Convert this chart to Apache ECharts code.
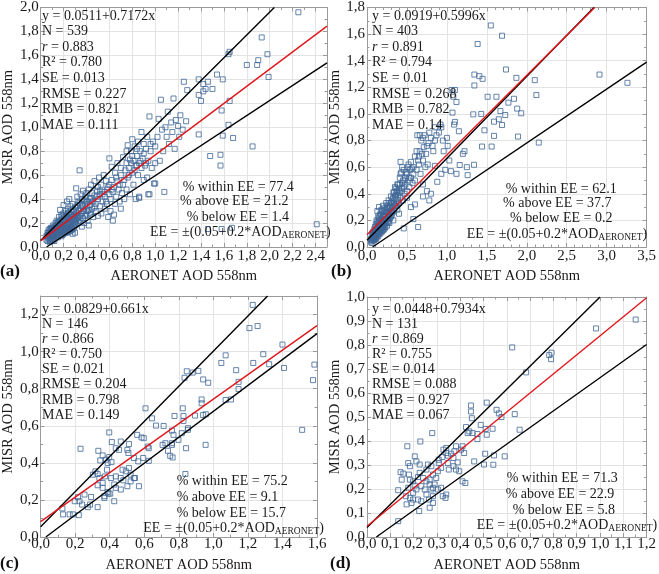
<!DOCTYPE html>
<html><head><meta charset="utf-8">
<script src="https://cdn.jsdelivr.net/npm/echarts@6/dist/echarts.min.js"></script>
<style>html,body{margin:0;padding:0;background:#fff}#c{width:659px;height:574px}</style>
</head><body><div id="c"></div>
<script>
// ---------------- DATA ----------------
const pointsA = [
[0.05,0.06],[0.06,0.08],[0.06,0.05],[0.07,0.1],[0.07,0.07],[0.08,0.12],[0.08,0.06],[0.08,0.09],[0.09,0.14],[0.09,0.08],[0.09,0.11],[0.10,0.07],[0.10,0.12],[0.10,0.16],[0.11,0.09],[0.11,0.13],[0.11,0.18],[0.12,0.1],[0.12,0.15],[0.12,0.07],[0.13,0.12],[0.13,0.17],[0.13,0.2],[0.14,0.09],[0.14,0.14],[0.14,0.22],[0.15,0.11],[0.15,0.16],[0.15,0.19],[0.06,0.12],[0.07,0.14],[0.08,0.15],[0.09,0.05],[0.1,0.1],[0.11,0.06],[0.12,0.12],[0.13,0.08],[0.14,0.18],[0.15,0.13],
[0.05,0.09],[0.06,0.1],[0.07,0.12],[0.08,0.04],[0.09,0.16],[0.1,0.05],[0.1,0.14],[0.11,0.11],[0.11,0.15],[0.12,0.17],[0.12,0.05],[0.13,0.1],[0.13,0.14],[0.14,0.11],[0.14,0.16],[0.15,0.08],[0.15,0.21],[0.16,0.17],[0.17,0.1],[0.17,0.15],[0.17,0.19],[0.18,0.13],[0.18,0.22],[0.19,0.1],[0.19,0.16],[0.19,0.26],[0.2,0.14],[0.2,0.19],[0.21,0.12],[0.21,0.22],[0.22,0.15],[0.22,0.26],[0.23,0.12],[0.23,0.18],[0.24,0.16],[0.24,0.28],[0.25,0.13],[0.25,0.24],[0.26,0.17],[0.26,0.27],[0.27,0.14],[0.27,0.31],[0.28,0.22],[0.29,0.16],[0.29,0.27],[0.3,0.18],[0.31,0.23],[0.31,0.33],[0.32,0.27],[0.33,0.25],[0.33,0.38],[0.34,0.22],[0.35,0.28],[0.36,0.35],[0.37,0.3],[0.38,0.39],[0.39,0.26],[0.4,0.38],[0.41,0.3],[0.43,0.4],[0.45,0.38],[0.47,0.33],[0.49,0.42],[0.52,0.47],[0.54,0.44],[0.57,0.38],[0.59,0.5],[0.62,0.48],[0.66,0.58],[0.69,0.52],[0.73,0.56],[0.77,0.6],[0.79,0.7],[0.82,0.64],[0.84,0.82],[0.87,0.72],[0.9,0.78],[0.92,0.7],[0.96,0.86],[0.8,0.76],[0.84,0.68],[0.75,0.8],
[0.16,0.1],[0.16,0.14],[0.16,0.2],[0.16,0.25],[0.17,0.12],[0.17,0.17],[0.17,0.22],[0.17,0.31],[0.18,0.09],[0.18,0.15],[0.18,0.19],[0.18,0.27],[0.19,0.13],[0.19,0.18],[0.19,0.23],[0.2,0.11],[0.2,0.16],[0.2,0.21],[0.2,0.28],[0.2,0.35],[0.21,0.14],[0.21,0.19],[0.21,0.25],[0.22,0.12],[0.22,0.17],[0.22,0.23],[0.22,0.3],[0.23,0.15],[0.23,0.2],[0.23,0.27],[0.23,0.38],[0.24,0.13],[0.24,0.18],[0.24,0.24],[0.24,0.32],[0.25,0.16],[0.25,0.21],[0.25,0.29],[0.25,0.4],[0.26,0.14],[0.26,0.19],[0.26,0.23],[0.26,0.34],[0.27,0.17],[0.27,0.22],[0.27,0.27],[0.28,0.15],[0.28,0.2],[0.28,0.25],[0.28,0.36],[0.29,0.18],[0.29,0.23],[0.29,0.3],[0.3,0.21],[0.3,0.26],[0.3,0.33],[0.3,0.12],[0.31,0.49],[0.28,0.11],
[0.31,0.19],[0.31,0.28],[0.32,0.24],[0.32,0.35],[0.32,0.42],[0.33,0.2],[0.33,0.3],[0.34,0.26],[0.34,0.37],[0.34,0.64],[0.35,0.22],[0.35,0.32],[0.35,0.44],[0.36,0.28],[0.36,0.4],[0.37,0.24],[0.37,0.34],[0.37,0.47],[0.38,0.3],[0.38,0.2],[0.39,0.36],[0.39,0.42],[0.4,0.27],[0.4,0.33],[0.4,0.45],[0.41,0.38],[0.41,0.22],[0.42,0.31],[0.42,0.48],[0.43,0.35],[0.43,0.27],[0.44,0.41],[0.44,0.52],[0.45,0.32],[0.45,0.45],[0.46,0.25],[0.46,0.38],[0.47,0.43],[0.47,0.55],[0.48,0.3],[0.48,0.36],[0.49,0.47],[0.5,0.4],[0.5,0.26],[0.5,0.5],[0.36,0.17],[0.42,0.18],[0.44,0.28],
[0.51,0.58],[0.52,0.34],[0.52,0.44],[0.53,0.28],[0.53,0.52],[0.54,0.38],[0.55,0.46],[0.55,0.6],[0.56,0.32],[0.56,0.42],[0.57,0.55],[0.58,0.36],[0.58,0.48],[0.59,0.25],[0.6,0.74],[0.6,0.44],[0.6,0.52],[0.61,0.3],[0.61,0.4],[0.62,0.56],[0.62,0.67],[0.63,0.46],[0.63,0.22],[0.64,0.5],[0.65,0.36],[0.65,0.62],[0.66,0.42],[0.67,0.55],[0.67,0.7],[0.68,0.48],[0.69,0.38],[0.7,0.6],[0.7,0.66],[0.71,0.45],[0.72,0.52],[0.72,0.75],[0.73,0.4],[0.74,0.64],[0.75,0.7],[0.75,0.48],[0.64,0.27],[0.7,0.32],
[0.76,0.58],[0.76,0.85],[0.77,0.66],[0.78,0.44],[0.78,0.73],[0.79,0.8],[0.8,0.62],[0.8,0.9],[0.81,0.52],[0.81,0.72],[0.82,0.84],[0.83,0.68],[0.83,0.4],[0.84,0.76],[0.85,0.6],[0.85,0.88],[0.86,0.7],[0.86,0.42],[0.87,0.8],[0.88,0.66],[0.88,0.96],[0.89,0.74],[0.9,0.86],[0.9,0.56],[0.91,0.68],[0.92,0.82],[0.93,0.58],[0.93,0.92],[0.94,0.72],[0.95,1.09],[0.95,0.44],[0.96,0.8],[0.97,0.66],[0.98,0.88],[0.99,0.53],[1.0,0.7],[1.0,0.84],
[1.02,0.92],[1.03,1.07],[1.04,0.72],[1.05,1.23],[1.06,0.98],[1.07,0.8],[1.08,0.46],[1.09,1.0],[1.1,0.92],[1.11,1.13],[1.12,0.86],[1.14,1.04],[1.15,0.96],[1.16,1.24],[1.17,0.82],[1.18,1.06],[1.2,1.01],[1.21,0.92],[1.22,1.1],[1.24,0.98],[1.25,1.38],[1.27,1.05],[1.28,1.31],
[2.25,1.96],[1.93,1.75],[1.98,1.61],[1.65,1.63],[1.64,1.61],[1.8,1.52],[1.89,1.52],[1.9,1.56],[1.99,1.42],[1.59,1.4],[1.54,1.44],[1.38,1.4],[1.46,1.38],[1.42,1.36],[1.44,1.32],[1.5,1.32],[1.42,1.3],[1.38,1.27],[1.4,1.22],[1.65,1.22],[1.58,1.14],[1.64,1.02],[1.68,0.91],[1.59,0.93],[1.38,0.94],[1.85,0.84],[1.48,0.76],[1.57,0.77],[1.57,0.68],[2.41,0.19],[1.46,0.15],[1.58,0.15],[1.67,0.16],[0.94,0.44],[0.86,0.41],[1.0,0.53]
];
const pointsB = [
[0.05,0.04],[0.06,0.07],[0.06,0.03],[0.07,0.09],[0.07,0.05],[0.08,0.11],[0.08,0.07],[0.09,0.05],[0.09,0.13],[0.09,0.09],[0.1,0.08],[0.1,0.12],[0.1,0.15],[0.11,0.06],[0.11,0.1],[0.11,0.17],[0.12,0.09],[0.12,0.13],[0.12,0.2],[0.13,0.11],[0.13,0.15],[0.13,0.27],[0.14,0.08],[0.14,0.13],[0.14,0.18],[0.15,0.1],[0.15,0.16],[0.15,0.22],[0.15,0.3],[0.16,0.12],[0.16,0.19],[0.17,0.14],[0.17,0.25],[0.17,0.21],[0.18,0.11],[0.18,0.17],[0.18,0.28],[0.19,0.15],[0.19,0.2],[0.2,0.13],[0.2,0.23],[0.2,0.18],[0.2,0.31],[0.21,0.16],[0.21,0.26],[0.22,0.2],[0.22,0.14],[0.22,0.29],[0.23,0.18],[0.23,0.24],[0.24,0.21],[0.24,0.33],[0.25,0.16],[0.25,0.26],[0.26,0.23],[0.26,0.3],[0.27,0.19],[0.27,0.35],[0.28,0.25],[0.28,0.29],[0.29,0.22],[0.3,0.27],[0.3,0.33],[0.3,0.38],[0.31,0.24],[0.32,0.3],[0.32,0.36],[0.33,0.41],[0.34,0.27],[0.34,0.33],[0.35,0.38],[0.35,0.45],[0.36,0.31],[0.37,0.36],[0.37,0.42],[0.38,0.47],[0.38,0.28],[0.39,0.39],[0.4,0.33],[0.4,0.44],[0.41,0.52],[0.42,0.37],[0.42,0.64],[0.43,0.42],[0.43,0.56],[0.44,0.48],[0.45,0.35],[0.45,0.5],[0.46,0.45],[0.46,0.58],[0.47,0.4],[0.48,0.52],[0.48,0.47],[0.5,0.55],[0.5,0.42],[0.51,0.6],[0.52,0.5],[0.53,0.45],[0.54,0.58],[0.55,0.52],[0.56,0.59],[0.57,0.48],[0.58,0.55],[0.6,0.5],[0.62,0.58],[0.63,0.84],[0.64,0.15],[0.65,0.68],[0.65,0.62],[0.66,0.72],[0.67,0.55],[0.68,0.8],[0.7,0.65],[0.7,0.47],[0.71,0.75],[0.72,0.84],[0.73,0.6],[0.74,0.7],[0.75,0.42],[0.76,0.62],[0.77,0.78],[0.78,0.35],[0.8,0.82],[0.8,0.4],[0.82,0.76],[0.83,0.72],[0.85,0.61],[0.85,0.8],[0.87,0.84],[0.88,0.49],[0.9,0.86],[0.92,0.92],[0.93,0.9],[0.93,0.55],[0.95,0.8],[0.96,0.72],[0.98,0.58],[1.0,0.82],[1.01,0.76],[1.03,0.65],[1.05,0.57],[1.06,1.18],[1.07,1.01],[1.08,1.13],[1.09,0.92],[1.1,1.18],[1.1,0.94],[1.12,1.09],[1.12,0.55],[1.15,0.87],[1.2,0.7],[1.22,0.72],[1.25,0.6],[0.33,0.2],[0.4,0.25],[0.46,0.14],[0.55,0.3],[0.28,0.18],[0.5,0.37],[0.6,0.32],[0.7,0.38],[0.58,0.21],
[0.05,0.06],[0.06,0.05],[0.07,0.07],[0.07,0.11],[0.08,0.05],[0.08,0.09],[0.09,0.07],[0.09,0.11],[0.1,0.1],[0.1,0.06],[0.11,0.08],[0.11,0.13],[0.12,0.07],[0.12,0.11],[0.12,0.16],[0.13,0.09],[0.13,0.13],[0.13,0.19],[0.14,0.11],[0.14,0.15],[0.14,0.23],[0.15,0.13],[0.15,0.19],[0.16,0.1],[0.16,0.15],[0.16,0.24],[0.17,0.12],[0.17,0.18],[0.18,0.14],[0.18,0.2],[0.18,0.24],[0.19,0.12],[0.19,0.17],[0.19,0.27],[0.2,0.15],[0.2,0.21],[0.21,0.19],[0.21,0.13],[0.21,0.23],[0.22,0.17],[0.22,0.24],[0.23,0.15],[0.23,0.21],[0.23,0.28],[0.24,0.18],[0.24,0.26],[0.25,0.21],[0.25,0.31],[0.26,0.19],[0.26,0.26],[0.27,0.23],[0.27,0.29],[0.28,0.21],[0.28,0.33],[0.29,0.26],[0.29,0.31],[0.3,0.23],[0.31,0.29],[0.31,0.34],[0.32,0.26],[0.33,0.31],[0.33,0.37],[0.34,0.41],[0.35,0.31],[0.36,0.39],[0.36,0.44],[0.37,0.32],[0.38,0.41],[0.39,0.34],[0.39,0.47],[0.41,0.41],[0.41,0.47],[0.42,0.55],[0.44,0.44],[0.44,0.6],[0.47,0.5],[0.49,0.56],[0.52,0.62],[0.53,0.52],[0.55,0.64],[0.58,0.6],[0.6,0.68],[0.62,0.72],[0.64,0.65],[0.69,0.7],[0.75,0.76],[0.78,0.86],[0.66,0.84],[0.7,0.82],[0.85,0.9],
[1.55,1.665],[1.69,1.588],[1.385,1.526],[1.74,1.334],[1.344,1.296],[1.406,1.284],[1.447,1.264],[1.344,1.214],[2.91,1.296],[3.26,1.234],[2.10,1.254],[1.87,1.271],[1.62,1.129],[1.51,1.129],[2.12,1.142],[1.84,1.114],[1.77,1.085],[1.67,1.022],[1.88,1.04],[1.93,1.005],[1.73,0.992],[1.65,0.96],[1.59,0.942],[1.69,0.917],[1.89,0.83],[2.15,0.785],[1.59,0.835],[1.44,0.755],[1.56,0.755],[1.33,0.997],[1.43,1.0],[1.34,0.618],[1.26,0.54],[1.47,0.877],[1.16,0.616]
];
const pointsC = [
[1.228,1.252],[1.209,1.127],[1.256,1.138],[1.40,1.038],[1.289,0.986],[1.071,0.98],[1.046,0.939],[1.231,0.939],[1.323,0.932],[1.585,0.93],[1.409,0.912],[1.132,0.9],[0.846,0.894],[0.88,0.887],[0.913,0.896],[0.833,0.859],[0.941,0.85],[0.97,0.832],[1.577,0.846],[1.146,0.837],
[1.146,0.798],[1.102,0.742],[1.071,0.739],[0.932,0.742],[0.932,0.721],[0.823,0.694],[0.607,0.694],[0.645,0.64],[0.827,0.653],[0.894,0.655],[0.775,0.653],[0.668,0.601],[0.712,0.599],[0.827,0.626],[0.941,0.658],[0.956,0.662],[0.853,0.587],[0.852,0.578],[0.817,0.56],[0.769,0.551],[0.798,0.524],[0.76,0.506],[0.722,0.506],[0.706,0.497],[0.76,0.497],[0.737,0.465],[0.75,0.438],[0.764,0.429],[0.842,0.479],[0.955,0.497],[0.838,0.34],[1.514,0.578],[0.76,0.574],[0.626,0.411],
[0.397,0.564],[0.231,0.476],[0.584,0.537],[0.559,0.551],[0.502,0.47],[0.508,0.453],[0.464,0.515],[0.511,0.501],[0.412,0.512],[0.435,0.479],[0.454,0.47],[0.54,0.426],[0.565,0.408],[0.594,0.426],[0.626,0.479],[0.62,0.488],[0.597,0.533],
[0.334,0.465],[0.345,0.413],[0.359,0.44],[0.378,0.417],[0.397,0.431],[0.388,0.399],[0.41,0.404],[0.384,0.363],[0.372,0.327],[0.33,0.34],[0.317,0.354],[0.302,0.336],[0.34,0.318],[0.359,0.292],[0.407,0.318],[0.435,0.327],[0.426,0.283],[0.435,0.265],[0.426,0.193],
[0.464,0.318],[0.493,0.354],[0.474,0.363],[0.511,0.372],[0.521,0.336],[0.54,0.318],[0.521,0.3],[0.546,0.318],[0.569,0.274],[0.502,0.274],[0.479,0.306],[0.464,0.256],
[0.388,0.243],[0.393,0.234],[0.403,0.234],[0.359,0.265],[0.369,0.211],[0.33,0.161],[0.33,0.279],[0.369,0.22],[0.292,0.216],
[0.225,0.193],[0.197,0.193],[0.254,0.229],[0.216,0.215],[0.24,0.175],[0.286,0.175],[0.273,0.161],[0.221,0.118],[0.187,0.122],[0.168,0.122],[0.13,0.122],[0.126,0.154]
];
const pointsD = [
[1.153,0.906],[0.983,0.869],[0.623,0.79],[0.782,0.758],[0.79,0.741],[0.792,0.768],[0.683,0.686],
[0.514,0.56],[0.556,0.53],[0.566,0.515],[0.577,0.5],[0.634,0.512],[0.655,0.447],[0.539,0.451],[0.514,0.426],[0.591,0.336],[0.545,0.34],[0.542,0.301],
[0.446,0.548],[0.446,0.523],[0.45,0.495],[0.28,0.433],[0.229,0.398],[0.173,0.378],[0.425,0.458],[0.439,0.44],[0.432,0.433],[0.453,0.433],[0.474,0.429],[0.488,0.467],[0.509,0.45],[0.474,0.408],[0.507,0.347],[0.502,0.302],[0.46,0.315],
[0.41,0.378],[0.403,0.364],[0.382,0.378],[0.375,0.357],[0.361,0.347],[0.417,0.35],[0.34,0.371],[0.328,0.364],[0.34,0.35],[0.347,0.339],[0.371,0.329],[0.323,0.333],[0.308,0.322],[0.347,0.308],[0.308,0.308],[0.389,0.311],[0.371,0.295],[0.382,0.281],[0.396,0.274],[0.351,0.281],[0.318,0.288],[0.41,0.232],[0.422,0.225],
[0.304,0.274],[0.283,0.26],[0.297,0.246],[0.269,0.239],[0.262,0.302],[0.276,0.295],[0.255,0.281],[0.226,0.302],[0.212,0.315],[0.205,0.336],[0.177,0.308],[0.184,0.295],[0.226,0.267],[0.241,0.246],[0.219,0.25],[0.255,0.232],[0.269,0.219],[0.276,0.198],[0.283,0.205],[0.29,0.219],[0.248,0.198],[0.255,0.177],[0.283,0.17],[0.266,0.156],[0.233,0.149],[0.224,0.108],[0.269,0.122],[0.283,0.142],[0.304,0.198],[0.318,0.205],[0.325,0.17],[0.34,0.177],[0.337,0.163],
[0.144,0.27],[0.156,0.264],[0.149,0.239],[0.134,0.195],[0.18,0.26],[0.184,0.239],[0.177,0.205],[0.167,0.17],[0.184,0.163],[0.198,0.184],[0.205,0.214],[0.212,0.198],[0.191,0.142],[0.17,0.136],[0.219,0.156],[0.198,0.156],[0.233,0.212],[0.198,0.232],[0.134,0.066]
];

// regression and expected-error lines (end points)
const regA = [[0,0.0511],[2.5,1.8441]];
const eeUpA = [[0,0.055],[2.04,2.0]];
const eeLoA = [[0.052,0],[2.5,1.537]];
const regB = [[0,0.0919],[2.85,1.8]];
const eeUpB = [[0,0.05],[2.84,1.8]];
const eeLoB = [[0.07,0],[3.5,1.39]];
const regC = [[0,0.0829],[1.6,1.1405]];
const eeUpC = [[0,0.055],[1.314,1.3]];
const eeLoC = [[0.03,0],[1.6,1.097]];
const regD = [[0,0.0448],[1.2,0.997]];
const eeUpD = [[0,0.04],[1.0,1.0]];
const eeLoD = [[0.04,0],[1.2,0.802]];

// statistics text
const eqs   = ['y = 0.0511+0.7172x','y = 0.0919+0.5996x','y = 0.0829+0.661x','y = 0.0448+0.7934x'];
const nVals = ['539','403','146','131'];
const rVals = ['0.883','0.891','0.866','0.869'];
const r2Vals = ['0.780','0.794','0.750','0.755'];
const seVals = ['0.013','0.01','0.021','0.014'];
const rmseVals = ['0.227','0.268','0.204','0.088'];
const rmbVals = ['0.821','0.782','0.798','0.927'];
const maeVals = ['0.111','0.14','0.149','0.067'];
const withinVals = ['77.4','62.1','75.2','71.3'];
const aboveVals = ['21.2','37.7','9.1','22.9'];
const belowVals = ['1.4','0.2','15.7','5.8'];
const panelLetters = ['(a)','(b)','(c)','(d)'];
const xTitle = 'AERONET AOD 558nm';
const yTitle = 'MISR AOD 558nm';

// ---------------- LAYOUT / STYLE ----------------
const FONT = '"Liberation Serif","DejaVu Serif",serif';
const panels = [
  {pts:pointsA, reg:regA, up:eeUpA, lo:eeLoA, grid:{left:37,top:6,width:290,height:241},
   x:[0,2.5,0.2,2], y:[0,2.0,0.2,2], nameGapX:22, xMargin:2,
   statX:42, statY:16, statDy:15.6,
   ee:[[182.7,187.7],[180,201.7],[186.7,217.5],[150,232]], letter:[0,271.5]},
  {pts:pointsB, reg:regB, up:eeUpB, lo:eeLoB, grid:{left:367,top:6,width:283,height:241},
   x:[0,3.5,0.5,5], y:[0,1.8,0.2,2], nameGapX:22, xMargin:2,
   statX:372, statY:16, statDy:15.6,
   ee:[[505.7,189],[503,203.3],[510,218.3],[466.7,234]], letter:[331,271.5]},
  {pts:pointsC, reg:regC, up:eeUpC, lo:eeLoC, grid:{left:37,top:296,width:280,height:242},
   x:[0,1.6,0.2,2], y:[0,1.3,0.2,2], nameGapX:21, xMargin:0,
   statX:42, statY:309, statDy:15.15,
   ee:[[176.7,481.7],[176.7,497],[176.7,513],[143.3,528.3]], letter:[0,563.5]},
  {pts:pointsD, reg:regD, up:eeUpD, lo:eeLoD, grid:{left:367,top:297,width:283,height:241},
   x:[0,1.2,0.1,2], y:[0,1.0,0.1,2], nameGapX:21, xMargin:0,
   statX:372, statY:309, statDy:15.15,
   ee:[[506.7,478.3],[505.7,494.3],[512.7,510],[476.7,525]], letter:[330,563.5]}
];

function fmt(interval){
  return function(v){
    const k = v/interval;
    if (Math.abs(k - Math.round(k)) > 1e-6) return '';
    return v.toFixed(1).replace('.', ',');
  };
}

const option = {animation:false, backgroundColor:'#fff', grid:[], xAxis:[], yAxis:[], series:[], graphic:[]};
const FRAME = '#9a9a9a';
const TXT = 14;
const labelStyle = {fontFamily:FONT, fontSize:15, color:'#1a1a1a'};
panels.forEach(function(p, i){
  option.grid.push(Object.assign({containLabel:false}, p.grid));
  const common = function(r){ return {type:'value', gridIndex:i, min:r[0], max:r[1], interval:r[2]}; };
  option.xAxis.push(Object.assign(common(p.x), {
    position:'bottom', name:xTitle, nameLocation:'middle', nameGap:p.nameGapX,
    nameTextStyle:{fontFamily:FONT, fontSize:14.5, color:'#1a1a1a'},
    axisLine:{show:true, onZero:false, lineStyle:{color:FRAME, width:1}},
    axisTick:{show:true, inside:true, length:4, lineStyle:{color:FRAME}},
    minorTick:{show:true, splitNumber:p.x[3], length:2.5, lineStyle:{color:FRAME}},
    axisLabel:Object.assign({margin:p.xMargin, formatter:fmt(p.x[2])}, labelStyle),
    splitLine:{show:true, lineStyle:{color:'#e3e3e3', width:1}}
  }));
  option.xAxis.push(Object.assign(common(p.x), {
    position:'top',
    axisLine:{show:true, onZero:false, lineStyle:{color:FRAME, width:1}},
    axisTick:{show:true, inside:true, length:4, lineStyle:{color:FRAME}},
    minorTick:{show:true, splitNumber:p.x[3], length:2.5, lineStyle:{color:FRAME}},
    axisLabel:{show:false}, splitLine:{show:false}
  }));
  option.yAxis.push(Object.assign(common(p.y), {
    position:'left', name:yTitle, nameLocation:'middle', nameGap:20, nameRotate:90,
    nameTextStyle:{fontFamily:FONT, fontSize:14.5, color:'#1a1a1a'},
    axisLine:{show:true, onZero:false, lineStyle:{color:FRAME, width:1}},
    axisTick:{show:true, inside:true, length:4, lineStyle:{color:FRAME}},
    minorTick:{show:true, splitNumber:p.y[3], length:2.5, lineStyle:{color:FRAME}},
    axisLabel:Object.assign({margin:2, formatter:fmt(p.y[2])}, labelStyle),
    splitLine:{show:true, lineStyle:{color:'#e3e3e3', width:1}}
  }));
  option.yAxis.push(Object.assign(common(p.y), {
    position:'right',
    axisLine:{show:true, onZero:false, lineStyle:{color:FRAME, width:1}},
    axisTick:{show:true, inside:true, length:4, lineStyle:{color:FRAME}},
    minorTick:{show:true, splitNumber:p.y[3], length:2.5, lineStyle:{color:FRAME}},
    axisLabel:{show:false}, splitLine:{show:false}
  }));
  const xi = i*2, yi = i*2;
  option.series.push({type:'scatter', xAxisIndex:xi, yAxisIndex:yi, data:p.pts, symbol:'rect', symbolSize:5,
    itemStyle:{color:'rgba(0,0,0,0)', borderColor:'#3e6797', borderWidth:1}, z:2, silent:true});
  [[p.up,'#000'],[p.lo,'#000'],[p.reg,'#e3161b']].forEach(function(l){
    option.series.push({type:'line', xAxisIndex:xi, yAxisIndex:yi, data:l[0], symbol:'none',
      lineStyle:{color:l[1], width:1.4}, z:3, silent:true});
  });
  const lines = [eqs[i], 'N = '+nVals[i], '{it|r} = '+rVals[i], 'R\u00B2 = '+r2Vals[i],
    'SE = '+seVals[i], 'RMSE = '+rmseVals[i], 'RMB = '+rmbVals[i], 'MAE = '+maeVals[i]];
  lines.forEach(function(t, k){
    option.graphic.push({type:'text', x:p.statX, y:p.statY + k*p.statDy, z:100, silent:true,
      style:{text:t, fontFamily:FONT, fontSize:TXT, fill:'#1a1a1a', verticalAlign:'middle', align:'left',
        rich:{it:{fontFamily:FONT, fontSize:TXT, fontStyle:'italic', fill:'#1a1a1a'}}}});
  });
  const eeLines = ['% within EE = '+withinVals[i], '% above EE = '+aboveVals[i], '% below EE = '+belowVals[i],
    'EE = \u00B1(0.05+0.2*AOD{sub|AERONET})'];
  eeLines.forEach(function(t, k){
    option.graphic.push({type:'text', x:p.ee[k][0], y:p.ee[k][1], z:100, silent:true,
      style:{text:t, fontFamily:FONT, fontSize:TXT, fill:'#1a1a1a', verticalAlign:'middle', align:'left', lineHeight:16,
        rich:{sub:{fontFamily:FONT, fontSize:9.5, fill:'#1a1a1a', verticalAlign:'bottom', lineHeight:16}}}});
  });
  option.graphic.push({type:'text', x:p.letter[0], y:p.letter[1], z:100, silent:true,
    style:{text:panelLetters[i], fontFamily:FONT, fontSize:17, fontWeight:'bold', fill:'#111', verticalAlign:'middle', align:'left'}});
});

const chart = echarts.init(document.getElementById('c'), null, {renderer:'canvas'});
chart.setOption(option);
</script>
</body></html>
